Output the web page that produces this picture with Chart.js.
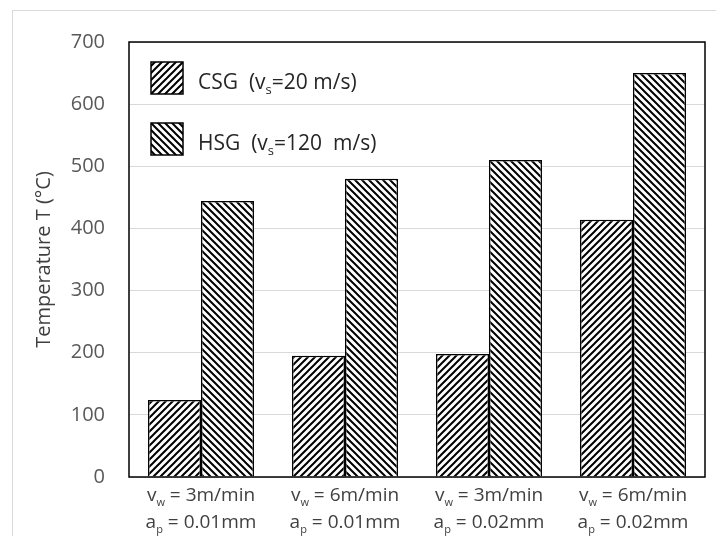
<!DOCTYPE html>
<html>
<head>
<meta charset="utf-8">
<script src="https://cdn.jsdelivr.net/npm/chart.js@4"></script>
<style>
  html, body { margin: 0; padding: 0; background: #fff; }
  #wrap { position: relative; width: 716px; height: 536px; }
</style>
</head>
<body>
<div id="wrap"><canvas id="c" width="716" height="536"></canvas></div>
<script>
// categories: [v_w text, a_p text]
const categories = [
  ['3m/min', '0.01mm'],
  ['6m/min', '0.01mm'],
  ['3m/min', '0.02mm'],
  ['6m/min', '0.02mm']
]
const csgValues = [124, 195, 198, 414]
const hsgValues = [444, 480, 510, 650]
const seriesNames = ['CSG', 'HSG']
const seriesSpeeds = ['=20 m/s)', '=120  m/s)']
const yTicks = [0, 100, 200, 300, 400, 500, 600, 700]

const FONT = '"Open Sans", "Noto Sans", sans-serif'

// diagonal hatch pattern, dir 1 = "/" , -1 = "\"
function hatch(dir) {
  const s = 7
  const p = document.createElement('canvas')
  p.width = s; p.height = s
  const g = p.getContext('2d')
  g.fillStyle = '#fff'
  g.fillRect(0, 0, s, s)
  g.strokeStyle = '#000'
  g.lineWidth = 2
  g.beginPath()
  if (dir > 0) {
    g.moveTo(-1, s + 1); g.lineTo(s + 1, -1)
    g.moveTo(-1, 1); g.lineTo(1, -1)
    g.moveTo(s - 1, s + 1); g.lineTo(s + 1, s - 1)
  } else {
    g.moveTo(-1, -1); g.lineTo(s + 1, s + 1)
    g.moveTo(s - 1, -1); g.lineTo(s + 1, 1)
    g.moveTo(-1, s - 1); g.lineTo(1, s + 1)
  }
  g.stroke()
  return document.getElementById('c').getContext('2d').createPattern(p, 'repeat')
}

const patCSG = hatch(1)
const patHSG = hatch(-1)

// text with a subscript: parts = [[text, isSub], ...]
function drawRich(ctx, parts, x, y, size, color) {
  ctx.fillStyle = color
  ctx.textBaseline = 'alphabetic'
  ctx.textAlign = 'left'
  let cx = x
  parts.forEach(([t, sub]) => {
    const fs = sub ? Math.round(size * 0.6) : size
    ctx.font = fs + 'px ' + FONT
    ctx.fillText(t, cx, y + (sub ? size * 0.25 : 0))
    cx += ctx.measureText(t).width
  })
  return cx - x
}
function richWidth(ctx, parts, size) {
  let w = 0
  parts.forEach(([t, sub]) => {
    ctx.font = (sub ? Math.round(size * 0.6) : size) + 'px ' + FONT
    w += ctx.measureText(t).width
  })
  return w
}

const extras = {
  id: 'extras',
  beforeDraw(chart) {
    const ctx = chart.ctx
    ctx.save()
    ctx.strokeStyle = '#d9d9d9'
    ctx.lineWidth = 1
    ctx.strokeRect(12.5, 10.5, 720, 540)
    ctx.restore()
  },
  afterDraw(chart) {
    const ctx = chart.ctx
    const a = chart.chartArea
    ctx.save()
    // plot frame
    ctx.strokeStyle = '#000'
    ctx.lineWidth = 1.5
    ctx.strokeRect(a.left, a.top, a.right - a.left, a.bottom - a.top)

    // x labels with subscripts
    const xs = chart.scales.x
    categories.forEach((c, i) => {
      const cx = xs.getPixelForValue(i)
      const l1 = [['v', false], ['w', true], [' = ' + c[0], false]]
      const l2 = [['a', false], ['p', true], [' = ' + c[1], false]]
      const w1 = richWidth(ctx, l1, 19)
      const w2 = richWidth(ctx, l2, 19)
      drawRich(ctx, l1, cx - w1 / 2, a.bottom + 24, 19, '#404040')
      drawRich(ctx, l2, cx - w2 / 2, a.bottom + 51, 19, '#404040')
    })

    // legend inside the plot
    const pats = [patCSG, patHSG]
    seriesNames.forEach((n, i) => {
      const bx = 151, by = 62 + i * 61
      ctx.fillStyle = pats[i]
      ctx.fillRect(bx, by, 32, 32)
      ctx.strokeStyle = '#000'
      ctx.lineWidth = 1.5
      ctx.strokeRect(bx, by, 32, 32)
      drawRich(ctx, [[n + '  (v', false], ['s', true], [seriesSpeeds[i], false]], 198, by + 27, 21, '#262626')
    })
    ctx.restore()
  }
}

new Chart(document.getElementById('c'), {
  type: 'bar',
  data: {
    labels: categories.map(c => c.join(' ')),
    datasets: [
      { label: seriesNames[0], data: csgValues, backgroundColor: patCSG, borderColor: '#000', borderWidth: 1.5 },
      { label: seriesNames[1], data: hsgValues, backgroundColor: patHSG, borderColor: '#000', borderWidth: 1.5 }
    ]
  },
  options: {
    responsive: false,
    animation: false,
    devicePixelRatio: 1,
    layout: { padding: { top: 42, right: 11, left: 32, bottom: 0 } },
    datasets: { bar: { categoryPercentage: 0.736, barPercentage: 1 } },
    plugins: { legend: { display: false }, tooltip: { enabled: false } },
    scales: {
      x: {
        grid: { display: false },
        border: { display: false },
        ticks: { display: false },
        afterFit(s) { s.height = 59 }
      },
      y: {
        min: 0, max: 700,
        afterBuildTicks(s) { s.ticks = yTicks.map(v => ({ value: v })) },
        grid: { color: '#d9d9d9', lineWidth: 1, drawTicks: false },
        border: { display: false },
        ticks: { color: '#595959', font: { size: 20, family: FONT }, padding: 24 },
        title: { display: true, text: 'Temperature T (°C)', color: '#404040', font: { size: 20, family: FONT }, padding: 0 },
        afterFit(s) { s.width = 97 }
      }
    }
  },
  plugins: [extras]
})
</script>
</body>
</html>
